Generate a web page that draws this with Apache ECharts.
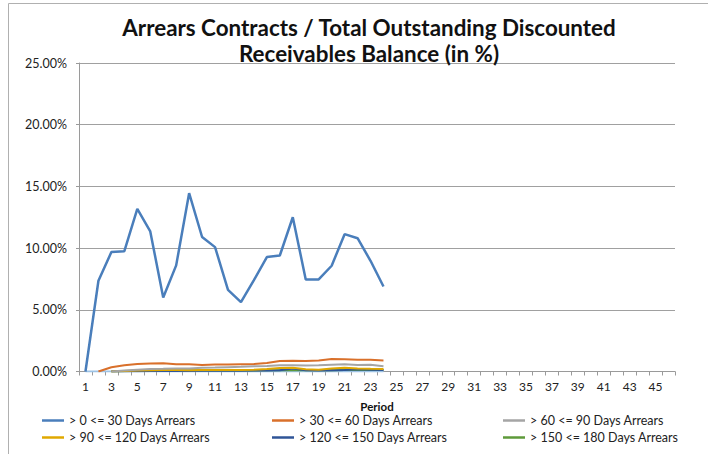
<!DOCTYPE html>
<html>
<head>
<meta charset="utf-8">
<script src="https://cdn.jsdelivr.net/npm/echarts@6/dist/echarts.min.js"></script>
<style>html,body{margin:0;padding:0;background:#fff}#c{width:708px;height:454px}</style>
</head>
<body>
<div id="c"></div>
<script>
var periods = [];
for (var i = 1; i <= 46; i++) periods.push(String(i));

var titleText = 'Arrears Contracts / Total Outstanding Discounted\nReceivables Balance (in %)';

var seriesNames = ['> 0 <= 30 Days Arrears', '> 30 <= 60 Days Arrears', '> 60 <= 90 Days Arrears',
  '> 90 <= 120 Days Arrears', '> 120 <= 150 Days Arrears', '> 150 <= 180 Days Arrears', '> 180 Days Arrears'];

var d0_30 = [0, 7.35, 9.68, 9.75, 13.18, 11.35, 6.0, 8.6, 14.45, 10.9, 10.08, 6.62, 5.62, 7.4, 9.27, 9.4, 12.5, 7.46, 7.46, 8.57, 11.13, 10.8, 8.97, 6.89];
var d30_60 = [null, 0, 0.35, 0.5, 0.6, 0.65, 0.67, 0.58, 0.58, 0.52, 0.56, 0.56, 0.58, 0.6, 0.68, 0.85, 0.87, 0.85, 0.9, 1.02, 1.0, 0.95, 0.95, 0.9];
var d60_90 = [null, null, 0, 0.08, 0.15, 0.2, 0.22, 0.25, 0.25, 0.3, 0.32, 0.35, 0.38, 0.42, 0.45, 0.5, 0.5, 0.48, 0.5, 0.55, 0.58, 0.52, 0.55, 0.42];
var d90_120 = [null, null, 0, 0.05, 0.08, 0.1, 0.12, 0.12, 0.1, 0.12, 0.12, 0.12, 0.12, 0.15, 0.2, 0.28, 0.3, 0.18, 0.15, 0.25, 0.3, 0.25, 0.22, 0.2];
var d120_150 = [null, null, 0, 0.02, 0.03, 0.05, 0.05, 0.05, 0.05, 0.06, 0.06, 0.06, 0.06, 0.08, 0.08, 0.1, 0.25, 0.1, 0.08, 0.1, 0.12, 0.18, 0.15, 0.12];
var d150_180 = [null, null, 0, 0.03, 0.06, 0.08, 0.1, 0.1, 0.1, 0.08, 0.08, 0.08, 0.08, 0.08, 0.1, 0.1, 0.1, 0.1, 0.1, 0.1, 0.12, 0.12, 0.12, 0.12];
var d180 = [0, 0, 0, 0, 0, 0, 0, 0, 0, 0, 0, 0, 0, 0, 0, 0, 0, 0, 0, 0, 0, 0, 0, 0];

var yTicks = [0, 5, 10, 15, 20, 25];

var colors = ['#4A7EBB', '#D9702B', '#A5A5A5', '#E0A800', '#2F5597', '#5E9A3A', '#9DC3E6'];
var allData = [d0_30, d30_60, d60_90, d90_120, d120_150, d150_180, d180];

var FONT = 'Lato';
var series = allData.map(function (d, i) {
  return {
    name: seriesNames[i], type: 'line', data: d, showSymbol: false, symbol: 'none',
    smooth: false, connectNulls: false, z: 10 - i + (i === 0 ? 5 : 0),
    lineStyle: { width: i === 0 ? 2.5 : 2, color: colors[i] },
    itemStyle: { color: colors[i] }
  };
});

var legendPos = [[42, 414], [272, 414], [503, 414], [42, 431], [272, 431], [503, 431]];
var legends = legendPos.map(function (p, i) {
  return {
    data: [seriesNames[i]], left: p[0], top: p[1], icon: 'rect', itemWidth: 22, itemHeight: 2.5,
    padding: 0, selectedMode: false,
    textStyle: { fontFamily: FONT, fontSize: 12.5, color: '#222' }
  };
});

var chart = echarts.init(document.getElementById('c'), null, { renderer: 'svg' });
chart.setOption({
  animation: false,
  color: colors,
  legend: legends,
  grid: { left: 79, right: 33, top: 63, bottom: 82.5, containLabel: false },
  xAxis: {
    type: 'category', data: periods, boundaryGap: true,
    name: 'Period', nameLocation: 'middle', nameGap: 29,
    nameTextStyle: { fontFamily: FONT, fontSize: 11.5, fontWeight: 'bold', color: '#111' },
    axisLine: { lineStyle: { color: '#9a9a9a', width: 1 } },
    axisTick: { show: true, interval: 0, length: 4, lineStyle: { color: '#9a9a9a' } },
    axisLabel: { interval: 1, fontFamily: FONT, fontSize: 12, color: '#222', margin: 9 },
    splitLine: { show: false }
  },
  yAxis: {
    type: 'value', min: yTicks[0], max: yTicks[yTicks.length - 1], interval: 5,
    axisLine: { show: true, lineStyle: { color: '#9a9a9a' } },
    axisTick: { show: true, length: 3, lineStyle: { color: '#9a9a9a' } },
    axisLabel: { fontFamily: FONT, fontSize: 12.5, color: '#222', margin: 12,
      formatter: function (v) { return v.toFixed(2) + '%'; } },
    splitLine: { lineStyle: { color: '#a0a0a0', width: 1 } }
  },
  graphic: [
    { type: 'line', shape: { x1: 8.5, y1: 3.5, x2: 708, y2: 3.5 }, style: { stroke: '#b0b0b0', lineWidth: 1 } },
    { type: 'line', shape: { x1: 8.5, y1: 3.5, x2: 8.5, y2: 454 }, style: { stroke: '#b0b0b0', lineWidth: 1 } },
    { type: 'text', x: 369, y: 14, z: 100,
      style: { text: titleText, align: 'center', verticalAlign: 'top', fontFamily: FONT, fontSize: 22.4,
        fontWeight: 'bold', fill: '#111', lineHeight: 26 } }
  ],
  series: series
});
</script>
</body>
</html>
